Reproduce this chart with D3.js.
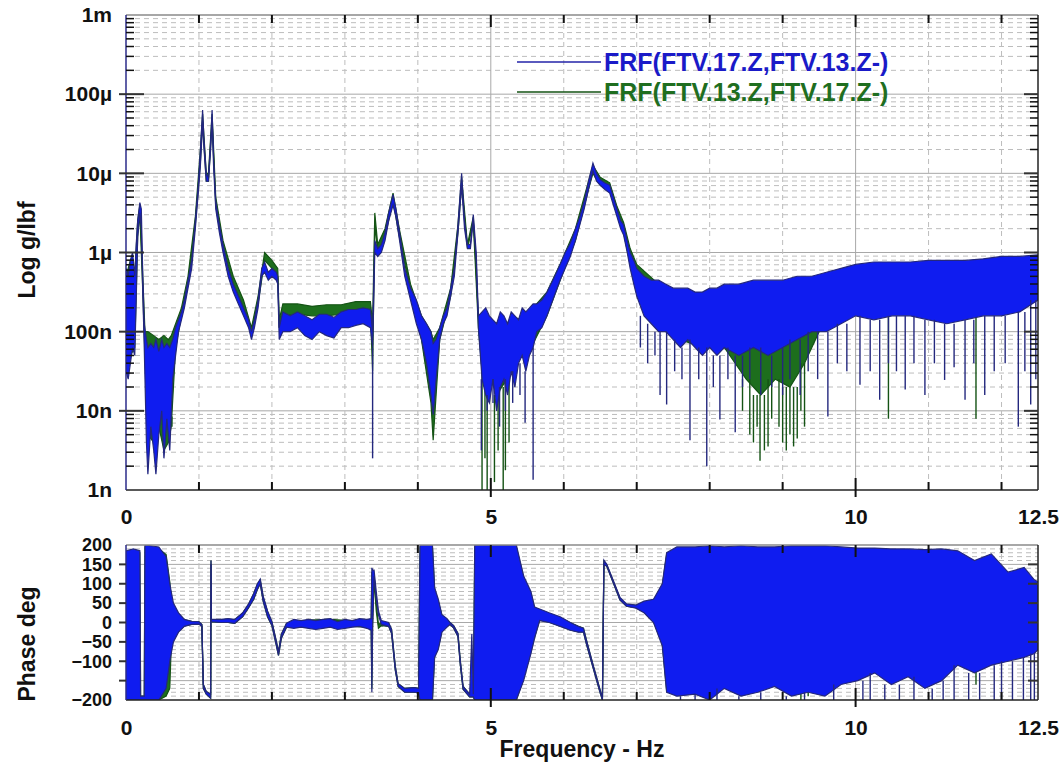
<!DOCTYPE html>
<html>
<head>
<meta charset="utf-8">
<script src="https://cdn.jsdelivr.net/npm/d3@7"></script>
<style>
  body { margin: 0; background: #fff; }
  svg { display: block; font-family: "Liberation Sans", Arial, sans-serif; font-weight: bold; }
</style>
</head>
<body>
<svg id="chart"></svg>
<script>
// magnitude rows: [freq Hz, upper log10(g/lbf), lower log10(g/lbf)]
const magBlue = [
  [0, -6.2, -7.5], [0.03, -6.3, -7.6], [0.06, -6.1, -7.4], [0.09, -6.0, -7.2], [0.12, -6.3, -7.3],
  [0.14, -5.9, -6.6], [0.16, -5.6, -5.8], [0.19, -5.37, -5.5], [0.21, -5.45, -5.7], [0.23, -6.3, -6.5],
  [0.25, -6.9, -7.2], [0.28, -7.1, -8.4], [0.30, -7.2, -8.8], [0.34, -7.15, -8.2], [0.38, -7.2, -8.5],
  [0.41, -7.1, -8.8], [0.45, -7.25, -8.3], [0.49, -7.1, -8.0], [0.52, -7.2, -8.6], [0.56, -7.15, -8.1],
  [0.60, -7.2, -8.5], [0.64, -7.1, -7.6], [0.68, -6.95, -7.3], [0.72, -6.85, -7.0], [0.76, -6.75, -6.85],
  [0.80, -6.6, -6.7], [0.85, -6.35, -6.45], [0.90, -6.1, -6.2], [0.95, -5.6, -5.7], [0.99, -5.15, -5.25],
  [1.02, -4.7, -4.9], [1.05, -4.2, -4.35], [1.07, -4.6, -4.7], [1.10, -5.0, -5.1], [1.13, -5.05, -5.1],
  [1.16, -4.6, -4.7], [1.18, -4.2, -4.3], [1.20, -4.8, -4.9], [1.23, -5.35, -5.45], [1.28, -5.65, -5.75],
  [1.33, -5.9, -6.0], [1.40, -6.2, -6.3], [1.47, -6.4, -6.5], [1.54, -6.55, -6.65], [1.61, -6.7, -6.8],
  [1.68, -6.85, -6.95], [1.72, -7.0, -7.1], [1.76, -6.85, -6.95], [1.81, -6.6, -6.7], [1.86, -6.2, -6.3],
  [1.90, -6.12, -6.25], [1.95, -6.25, -6.35], [2.00, -6.2, -6.3], [2.06, -6.25, -6.35], [2.08, -6.3, -6.4],
  [2.10, -6.95, -7.1], [2.15, -6.75, -7.0], [2.25, -6.8, -7.0], [2.35, -6.75, -6.95], [2.45, -6.8, -7.05],
  [2.55, -6.85, -7.1], [2.65, -6.78, -7.0], [2.75, -6.78, -7.05], [2.85, -6.82, -7.08], [2.95, -6.75, -6.95],
  [3.05, -6.72, -6.95], [3.15, -6.72, -6.92], [3.25, -6.7, -6.9], [3.35, -6.72, -6.95], [3.38, -7.0, -7.2],
  [3.41, -5.85, -6.0], [3.45, -5.95, -6.05], [3.50, -5.9, -6.0], [3.55, -5.75, -5.85], [3.60, -5.5, -5.6],
  [3.66, -5.27, -5.4], [3.70, -5.45, -5.55], [3.75, -5.75, -5.85], [3.82, -6.2, -6.3], [3.90, -6.45, -6.6],
  [3.98, -6.6, -6.9], [4.05, -6.8, -7.1], [4.12, -6.9, -7.4], [4.18, -7.0, -7.8], [4.21, -7.15, -8.05],
  [4.25, -7.1, -7.6], [4.30, -6.95, -7.1], [4.35, -6.8, -6.9], [4.40, -6.7, -6.8], [4.45, -6.45, -6.55],
  [4.50, -6.2, -6.3], [4.55, -5.65, -5.75], [4.60, -5.0, -5.15], [4.64, -5.6, -5.7], [4.68, -5.9, -5.95],
  [4.72, -5.9, -5.95], [4.76, -5.52, -5.6], [4.80, -6.0, -6.1], [4.83, -6.8, -6.95], [4.88, -6.75, -7.6],
  [4.93, -6.7, -7.8], [4.98, -6.8, -7.9], [5.03, -6.85, -7.6], [5.08, -6.9, -8.0], [5.13, -6.75, -7.7],
  [5.18, -6.8, -7.6], [5.23, -6.9, -7.8], [5.28, -6.75, -7.5], [5.33, -6.8, -7.7], [5.38, -6.85, -7.4],
  [5.43, -6.7, -7.3], [5.48, -6.75, -7.5], [5.53, -6.7, -7.3], [5.58, -6.65, -7.2], [5.63, -6.65, -7.0],
  [5.70, -6.6, -6.95], [5.77, -6.5, -6.8], [5.85, -6.35, -6.6], [5.95, -6.15, -6.35], [6.02, -6.0, -6.2],
  [6.09, -5.88, -6.05], [6.16, -5.7, -5.85], [6.22, -5.55, -5.65], [6.28, -5.35, -5.45], [6.34, -5.1, -5.2],
  [6.40, -4.87, -4.97], [6.45, -5.0, -5.1], [6.50, -5.08, -5.15], [6.56, -5.12, -5.2], [6.63, -5.15, -5.25],
  [6.68, -5.3, -5.4], [6.73, -5.45, -5.55], [6.78, -5.6, -5.7], [6.82, -5.65, -5.78], [6.87, -5.85, -6.0],
  [6.91, -6.0, -6.2], [6.96, -6.1, -6.4], [7.00, -6.2, -6.55], [7.10, -6.3, -6.8], [7.20, -6.35, -6.9],
  [7.30, -6.35, -7.0], [7.40, -6.4, -7.0], [7.50, -6.45, -7.1], [7.60, -6.45, -7.2], [7.70, -6.45, -7.1],
  [7.80, -6.5, -7.2], [7.90, -6.5, -7.3], [8.00, -6.45, -7.2], [8.10, -6.45, -7.3], [8.20, -6.4, -7.2],
  [8.40, -6.4, -7.3], [8.60, -6.35, -7.2], [8.80, -6.35, -7.3], [9.00, -6.35, -7.2], [9.20, -6.3, -7.1],
  [9.40, -6.3, -7.0], [9.60, -6.25, -7.0], [9.80, -6.2, -6.9], [10.00, -6.15, -6.8], [10.25, -6.12, -6.85],
  [10.50, -6.12, -6.8], [10.75, -6.12, -6.8], [11.00, -6.1, -6.85], [11.25, -6.1, -6.9], [11.50, -6.1, -6.85],
  [11.75, -6.08, -6.8], [12.00, -6.05, -6.8], [12.25, -6.05, -6.75], [12.50, -6.03, -6.6]
]

const magGreen = [
  [0, -6.3, -7.4], [0.06, -6.1, -7.3], [0.12, -6.3, -7.2], [0.16, -5.6, -5.8], [0.19, -5.4, -5.5],
  [0.23, -6.3, -6.5], [0.26, -7.0, -7.3], [0.30, -7.0, -8.3], [0.38, -7.05, -8.4], [0.45, -7.1, -8.2],
  [0.52, -7.05, -8.5], [0.58, -7.1, -8.4], [0.62, -7.05, -8.2], [0.68, -6.9, -7.2], [0.76, -6.7, -6.8],
  [0.85, -6.3, -6.4], [0.95, -5.55, -5.65], [1.02, -4.7, -4.85], [1.05, -4.25, -4.35], [1.10, -5.0, -5.1],
  [1.13, -5.0, -5.1], [1.18, -4.25, -4.35], [1.23, -5.3, -5.4], [1.33, -5.85, -5.95], [1.47, -6.3, -6.4],
  [1.61, -6.6, -6.7], [1.72, -6.95, -7.05], [1.81, -6.55, -6.65], [1.90, -6.0, -6.1], [2.00, -6.1, -6.2],
  [2.08, -6.2, -6.3], [2.10, -6.85, -6.95], [2.15, -6.65, -6.8], [2.35, -6.65, -6.78], [2.55, -6.68, -6.8],
  [2.75, -6.66, -6.8], [2.95, -6.66, -6.78], [3.15, -6.62, -6.75], [3.35, -6.62, -6.75], [3.38, -6.9, -7.5],
  [3.41, -5.5, -5.65], [3.45, -5.9, -6.0], [3.55, -5.7, -5.8], [3.66, -5.25, -5.35], [3.75, -5.72, -5.82],
  [3.90, -6.4, -6.5], [4.05, -6.8, -7.1], [4.18, -7.0, -7.9], [4.21, -7.1, -8.37], [4.30, -6.95, -7.1],
  [4.45, -6.45, -6.55], [4.55, -5.65, -5.75], [4.60, -5.05, -5.15], [4.68, -5.9, -5.95], [4.76, -5.55, -5.62],
  [4.83, -6.8, -6.95], [4.88, -6.8, -7.5], [4.92, -6.8, -7.7], [5.00, -6.9, -7.6], [5.08, -6.9, -7.8],
  [5.15, -6.85, -7.7], [5.22, -6.9, -7.6], [5.30, -6.8, -7.4], [5.40, -6.85, -7.3], [5.58, -6.7, -7.15],
  [5.77, -6.5, -6.8], [5.95, -6.15, -6.35], [6.16, -5.7, -5.85], [6.34, -5.1, -5.2], [6.40, -4.9, -5.0],
  [6.50, -5.05, -5.15], [6.63, -5.12, -5.22], [6.73, -5.42, -5.52], [6.82, -5.62, -5.75], [6.91, -5.95, -6.15],
  [7.00, -6.15, -6.5], [7.30, -6.4, -6.95], [7.60, -6.5, -7.1], [7.90, -6.55, -7.2], [8.20, -6.5, -7.2],
  [8.50, -6.5, -7.6], [8.70, -6.5, -7.8], [8.90, -6.5, -7.6], [9.10, -6.5, -7.7], [9.30, -6.45, -7.4],
  [9.50, -6.4, -7.0], [10.00, -6.25, -6.75], [10.50, -6.2, -6.75], [11.00, -6.18, -6.8], [11.50, -6.18, -6.8],
  [12.00, -6.12, -6.75], [12.50, -6.1, -6.55]
]

// single deep drops below the band: [freq, log10 value]
const magBlueDrops = [
  [3.38, -8.6], [4.87, -8.5], [4.95, -8.0], [5.03, -7.9], [5.12, -8.2], [5.2, -8.0], [5.3, -7.9],
  [5.4, -7.8], [5.47, -8.15], [5.58, -8.87], [7.05, -7.2], [7.15, -7.4], [7.25, -7.3], [7.32, -7.8],
  [7.41, -7.92], [7.52, -7.5], [7.62, -7.6], [7.73, -8.37], [7.85, -7.6], [7.96, -8.7], [8.05, -7.7],
  [8.14, -8.11], [8.25, -7.6], [8.35, -8.27], [8.45, -7.7], [8.55, -7.6], [8.7, -7.8], [8.85, -7.7],
  [9.0, -7.8], [9.1, -7.6], [9.24, -7.8], [9.35, -7.5], [9.48, -7.6], [9.62, -8.07], [9.75, -7.4],
  [9.88, -7.5], [10.06, -7.67], [10.2, -7.5], [10.33, -7.86], [10.45, -7.4], [10.56, -7.5], [10.68, -7.73],
  [10.8, -7.4], [10.95, -7.8], [11.08, -7.4], [11.22, -7.61], [11.35, -7.45], [11.5, -7.86], [11.62, -7.4],
  [11.77, -7.8], [11.9, -7.5], [12.05, -7.4], [12.23, -8.2], [12.32, -7.5], [12.4, -7.92], [12.47, -7.6]
]
const magGreenDrops = [
  [0.63, -8.07], [4.88, -9.0], [4.92, -8.6], [4.95, -9.0], [5.05, -8.9], [5.1, -8.5], [5.17, -9.0],
  [5.2, -8.75], [5.25, -8.4], [8.45, -8.0], [8.55, -8.3], [8.6, -8.4], [8.65, -8.2], [8.69, -8.63],
  [8.75, -8.5], [8.8, -8.45], [8.85, -8.1], [8.95, -8.2], [9.0, -8.4], [9.05, -8.5], [9.1, -8.3],
  [9.15, -8.45], [9.2, -8.35], [9.25, -8.0], [9.3, -8.2], [10.45, -8.1], [11.65, -8.1]
]

// phase rows: [freq Hz, upper deg, lower deg]
const phaseBlue = [
  [0, 185, -200], [0.1, 190, -200], [0.19, 185, -200], [0.2, -190, -200], [0.25, -190, -200],
  [0.26, 200, -200], [0.45, 195, -200], [0.55, 170, -170], [0.6, 100, -100], [0.65, 50, -50],
  [0.72, 25, -25], [0.8, 8, -10], [0.9, 3, -5], [1.0, 2, -4], [1.04, -5, -10], [1.06, -160, -170],
  [1.1, -178, -185], [1.16, -185, -195], [1.165, 160, 150], [1.17, 8, 2], [1.3, 8, 0], [1.4, 10, 0],
  [1.49, 8, -2], [1.6, 25, 15], [1.68, 48, 38], [1.75, 75, 60], [1.8, 100, 85], [1.84, 112, 100],
  [1.88, 68, 55], [1.94, 30, 15], [2.0, 2, -8], [2.05, -40, -50], [2.09, -75, -85], [2.13, -30, -40],
  [2.2, -2, -12], [2.3, 8, -15], [2.4, 5, -12], [2.5, 8, -15], [2.6, 5, -18], [2.7, 8, -15],
  [2.8, 10, -12], [2.9, 2, -18], [3.0, 8, -15], [3.1, 5, -12], [3.2, 10, -10], [3.3, 8, -15],
  [3.36, 10, -20], [3.37, 141, -180], [3.38, 135, -10], [3.4, 135, 120], [3.43, 80, 60], [3.46, 30, 20],
  [3.5, 5, -5], [3.6, 0, -10], [3.64, -18, -28], [3.69, -112, -122], [3.73, -158, -165], [3.82, -170, -180],
  [3.95, -168, -180], [4.01, -170, -182], [4.03, 200, -200], [4.2, 200, -200], [4.23, 90, -90],
  [4.28, 60, -70], [4.33, 20, -25], [4.4, 10, -12], [4.44, 0, -5], [4.49, -8, -14], [4.55, -28, -36],
  [4.58, -95, -105], [4.62, -165, -172], [4.71, -185, -192], [4.74, -30, -192], [4.76, -185, -192],
  [4.78, 200, -200], [5.35, 200, -200], [5.45, 120, -150], [5.55, 80, -80], [5.6, 40, -40], [5.67, 35, 5],
  [5.8, 25, 0], [5.95, 15, -10], [6.09, 0, -20], [6.2, -10, -25], [6.27, -15, -25], [6.31, -45, -55],
  [6.41, -115, -122], [6.5, -175, -182], [6.53, -195, -200], [6.55, 161, 150], [6.59, 150, 145],
  [6.68, 108, 102], [6.77, 65, 58], [6.86, 48, 42], [6.99, 45, 37], [7.1, 55, 25], [7.23, 60, 0],
  [7.35, 100, -60], [7.41, 180, -180], [7.55, 195, -190], [7.8, 195, -185], [8.0, 198, -200],
  [8.2, 195, -170], [8.43, 198, -190], [8.66, 195, -180], [8.89, 195, -165], [9.12, 198, -190],
  [9.35, 198, -180], [9.58, 198, -190], [9.8, 195, -160], [10.03, 192, -150], [10.26, 192, -130],
  [10.49, 190, -160], [10.72, 190, -140], [10.95, 188, -170], [11.18, 190, -150], [11.4, 185, -110],
  [11.63, 160, -130], [11.86, 177, -110], [12.09, 130, -100], [12.31, 142, -90], [12.45, 110, -80],
  [12.5, 105, -70]
]

const phaseGreen = [
  [0, 180, -200], [0.1, 185, -200], [0.19, 180, -200], [0.2, -190, -200], [0.25, -190, -200],
  [0.26, 195, -200], [0.45, 190, -200], [0.55, 175, -190], [0.6, 105, -170], [0.62, 60, -60],
  [0.65, 45, -45], [0.72, 22, -22], [0.8, 7, -9], [0.9, 3, -5], [1.0, 2, -4], [1.04, -5, -10],
  [1.06, -160, -170], [1.1, -178, -185], [1.16, -185, -195], [1.165, 160, 150], [1.17, 7, 2],
  [1.3, 7, 0], [1.4, 9, 0], [1.49, 7, -2], [1.6, 24, 15], [1.68, 47, 38], [1.75, 74, 60],
  [1.8, 98, 85], [1.84, 110, 100], [1.88, 66, 55], [1.94, 28, 15], [2.0, 1, -8], [2.05, -40, -50],
  [2.09, -75, -85], [2.13, -30, -40], [2.2, -3, -12], [2.5, 6, -12], [2.8, 8, -10], [3.1, 4, -10],
  [3.3, 6, -12], [3.36, 8, -18], [3.37, 130, -170], [3.38, 125, -10], [3.4, 125, 110], [3.43, 50, 30],
  [3.46, -5, -15], [3.5, 0, -8], [3.6, -2, -10], [3.64, -18, -28], [3.69, -112, -122], [3.73, -158, -165],
  [3.82, -170, -180], [3.95, -168, -180], [4.01, -170, -182], [4.03, 195, -200], [4.2, 195, -200],
  [4.23, 85, -85], [4.28, 55, -65], [4.33, 18, -22], [4.4, 8, -10], [4.44, 0, -5], [4.49, -8, -14],
  [4.55, -28, -36], [4.58, -95, -105], [4.62, -165, -172], [4.71, -185, -192], [4.76, -185, -192],
  [4.78, 195, -200], [5.35, 195, -200], [5.45, 115, -145], [5.55, 75, -75], [5.6, 38, -38],
  [5.67, 33, 6], [5.8, 23, 1], [5.95, 13, -9], [6.09, -1, -19], [6.2, -10, -24], [6.27, -15, -24],
  [6.31, -45, -55], [6.41, -115, -122], [6.5, -175, -182], [6.53, -195, -200], [6.55, 158, 150],
  [6.59, 148, 145], [6.68, 106, 102], [6.77, 63, 58], [6.86, 46, 42], [6.99, 44, 38], [7.1, 53, 27],
  [7.23, 58, 2], [7.35, 95, -55], [7.41, 175, -175], [7.55, 190, -185], [7.8, 190, -180],
  [8.0, 192, -190], [8.2, 190, -165], [8.43, 192, -185], [8.66, 190, -175], [8.89, 190, -160],
  [9.12, 192, -185], [9.35, 192, -175], [9.58, 192, -185], [9.8, 190, -155], [10.03, 185, -145],
  [10.26, 185, -125], [10.49, 185, -155], [10.72, 185, -135], [10.95, 182, -165], [11.18, 185, -145],
  [11.4, 180, -105], [11.63, 155, -125], [11.86, 170, -105], [12.09, 125, -95], [12.31, 138, -85],
  [12.45, 105, -75], [12.5, 100, -65]
]

const phaseBlueDrops = [
  [7.6, -200], [7.8, -200], [8.1, -200], [8.4, -200], [8.7, -200], [9.05, -200], [9.3, -200],
  [9.7, -200], [10.1, -200], [10.2, -200], [10.4, -200], [10.6, -200], [10.8, -200], [11.05, -200],
  [11.2, -200], [11.35, -200], [11.55, -200], [11.7, -200], [11.9, -200], [12.0, -200], [12.15, -200],
  [12.3, -200], [12.4, -200], [12.45, -200]
]
const phaseGreenDrops = [[0.57, -190], [4.93, -200], [9.25, -200], [9.35, -190], [11.65, -160]]

const xTicks = [0, 5, 10, 12.5]
const magTickExp = [-9, -8, -7, -6, -5, -4, -3]
const magTickLabels = ['1n', '10n', '100n', '1µ', '10µ', '100µ', '1m']
const phaseTicks = [200, 150, 100, 50, 0, -50, -100, -200]
const seriesNames = ['FRF(FTV.17.Z,FTV.13.Z-)', 'FRF(FTV.13.Z,FTV.17.Z-)']

const width = 1063
const height = 769
const blueFill = '#0f1cf0', blueEdge = '#24287e'
const greenFill = '#1d6e1d', greenEdge = '#145314'
const gridMajor = '#a8a8a8', gridMinor = '#bdbdbd'

const svg = d3.select('#chart').attr('width', width).attr('height', height)

const x = d3.scaleLinear().domain([0, 12.5]).range([126, 1038])
const yMag = d3.scaleLog().domain([1e-9, 1e-3]).range([490, 15])
const yPh = d3.scaleLinear().domain([-200, 200]).range([700, 545])
const p10 = e => Math.pow(10, e)
const same = v => v

const defs = svg.append('defs')
function clip (id, y0, y1) {
  defs.append('clipPath').attr('id', id).append('rect')
    .attr('x', x(0)).attr('y', y0).attr('width', x(12.5) - x(0)).attr('height', y1 - y0)
}
clip('clipMag', 15, 490)
clip('clipPh', 545, 700)

// grids --------------------------------------------------------------
function vGrid (g, y0, y1) {
  d3.range(1, 13).forEach(f => {
    const major = f === 5 || f === 10
    g.append('line').attr('x1', x(f)).attr('x2', x(f)).attr('y1', y0).attr('y2', y1)
      .attr('stroke', major ? gridMajor : gridMinor)
      .attr('stroke-dasharray', major ? null : '5,4')
  })
}

const gMag = svg.append('g')
const magMinor = []
d3.range(-9, -3).forEach(d => d3.range(2, 10).forEach(m => magMinor.push(m * p10(d))))
magMinor.forEach(v => {
  gMag.append('line').attr('x1', x(0)).attr('x2', x(12.5)).attr('y1', yMag(v)).attr('y2', yMag(v))
    .attr('stroke', gridMinor).attr('stroke-dasharray', '5,4')
})
magTickExp.slice(1, -1).forEach(e => {
  gMag.append('line').attr('x1', x(0)).attr('x2', x(12.5)).attr('y1', yMag(p10(e))).attr('y2', yMag(p10(e)))
    .attr('stroke', gridMajor)
})
vGrid(gMag, 15, 490)

const gPh = svg.append('g')
d3.range(-190, 200, 10).filter(v => v % 50 !== 0).forEach(v => {
  gPh.append('line').attr('x1', x(0)).attr('x2', x(12.5)).attr('y1', yPh(v)).attr('y2', yPh(v))
    .attr('stroke', gridMinor).attr('stroke-dasharray', '5,4')
})
d3.range(-150, 200, 50).forEach(v => {
  gPh.append('line').attr('x1', x(0)).attr('x2', x(12.5)).attr('y1', yPh(v)).attr('y2', yPh(v))
    .attr('stroke', gridMajor)
})
vGrid(gPh, 545, 700)

// traces -------------------------------------------------------------
function drawSeries (g, rows, drops, yS, conv, fill, edge) {
  const area = d3.area().x(d => x(d[0])).y0(d => yS(conv(d[2]))).y1(d => yS(conv(d[1])))
  g.append('path').datum(rows).attr('d', area).attr('fill', fill)
  const hi = d3.line().x(d => x(d[0])).y(d => yS(conv(d[1])))
  const lo = d3.line().x(d => x(d[0])).y(d => yS(conv(d[2])))
  g.append('path').datum(rows).attr('d', hi).attr('fill', 'none').attr('stroke', edge).attr('stroke-width', 1.2)
  g.append('path').datum(rows).attr('d', lo).attr('fill', 'none').attr('stroke', edge).attr('stroke-width', 1.2)
  const near = d3.bisector(d => d[0]).center
  drops.forEach(s => {
    const r = rows[near(rows, s[0])]
    g.append('line').attr('x1', x(s[0])).attr('x2', x(s[0]))
      .attr('y1', yS(conv(r[2]))).attr('y2', yS(conv(s[1])))
      .attr('stroke', edge).attr('stroke-width', 1.4)
  })
}

const tMag = svg.append('g').attr('clip-path', 'url(#clipMag)')
drawSeries(tMag, magGreen, magGreenDrops, yMag, p10, greenFill, greenEdge)
drawSeries(tMag, magBlue, magBlueDrops, yMag, p10, blueFill, blueEdge)

const tPh = svg.append('g').attr('clip-path', 'url(#clipPh)')
drawSeries(tPh, phaseGreen, phaseGreenDrops, yPh, same, greenFill, greenEdge)
drawSeries(tPh, phaseBlue, phaseBlueDrops, yPh, same, blueFill, blueEdge)

// frames and ticks ---------------------------------------------------
function frame (g, y0, y1) {
  g.append('line').attr('x1', x(0)).attr('x2', x(12.5)).attr('y1', y0).attr('y2', y0).attr('stroke', '#8a8a8a').attr('stroke-width', 1.5)
  g.append('line').attr('x1', x(0)).attr('x2', x(12.5)).attr('y1', y1).attr('y2', y1).attr('stroke', '#222').attr('stroke-width', 1.5)
  g.append('line').attr('x1', x(12.5)).attr('x2', x(12.5)).attr('y1', y0).attr('y2', y1).attr('stroke', '#222').attr('stroke-width', 1.5)
  g.append('line').attr('x1', x(0)).attr('x2', x(0)).attr('y1', y0).attr('y2', y1).attr('stroke', '#2b2b8a').attr('stroke-width', 1.5)
  d3.range(1, 13).forEach(f => {
    const major = f === 5 || f === 10
    g.append('line').attr('x1', x(f)).attr('x2', x(f)).attr('y1', y0).attr('y2', y0 + (major ? 12 : 8))
      .attr('stroke', '#111').attr('stroke-width', 2)
    g.append('line').attr('x1', x(f)).attr('x2', x(f)).attr('y1', y1 - (major ? 12 : 8)).attr('y2', y1 + (major ? 7 : 0))
      .attr('stroke', '#111').attr('stroke-width', 2)
  })
}

const axMag = svg.append('g')
frame(axMag, 15, 490)
magMinor.forEach(v => {
  axMag.append('line').attr('x1', x(0)).attr('x2', x(0) + 8).attr('y1', yMag(v)).attr('y2', yMag(v)).attr('stroke', '#111').attr('stroke-width', 1.5)
  axMag.append('line').attr('x1', x(12.5) - 8).attr('x2', x(12.5)).attr('y1', yMag(v)).attr('y2', yMag(v)).attr('stroke', '#111').attr('stroke-width', 1.5)
})
magTickExp.slice(1, -1).forEach(e => {
  axMag.append('line').attr('x1', x(0) - 7).attr('x2', x(0) + 18).attr('y1', yMag(p10(e))).attr('y2', yMag(p10(e))).attr('stroke', '#333').attr('stroke-width', 2)
  axMag.append('line').attr('x1', x(12.5) - 14).attr('x2', x(12.5)).attr('y1', yMag(p10(e))).attr('y2', yMag(p10(e))).attr('stroke', '#333').attr('stroke-width', 2)
})

const axPh = svg.append('g')
frame(axPh, 545, 700)
d3.range(-150, 200, 50).forEach(v => {
  axPh.append('line').attr('x1', x(0) - 7).attr('x2', x(0)).attr('y1', yPh(v)).attr('y2', yPh(v)).attr('stroke', '#333').attr('stroke-width', 2)
  axPh.append('line').attr('x1', x(12.5) - 10).attr('x2', x(12.5)).attr('y1', yPh(v)).attr('y2', yPh(v)).attr('stroke', '#333').attr('stroke-width', 2)
})

// tick labels --------------------------------------------------------
function styleText (sel, size) {
  sel.attr('font-size', size).attr('font-family', 'Liberation Sans, Arial, sans-serif')
    .attr('font-weight', 'bold').attr('fill', '#111')
}

const magAxis = d3.axisLeft(yMag).tickValues(magTickExp.map(p10))
  .tickFormat((d, i) => magTickLabels[i]).tickSize(0).tickPadding(0)
svg.append('g').attr('transform', 'translate(112,0)').call(magAxis)
  .call(g => g.select('.domain').remove())
  .selectAll('text').call(styleText, 21)

const phAxis = d3.axisLeft(yPh).tickValues(phaseTicks).tickSize(0).tickPadding(0)
svg.append('g').attr('transform', 'translate(112,0)').call(phAxis)
  .call(g => g.select('.domain').remove())
  .selectAll('text').call(styleText, 18)

function xLabels (yy) {
  const ax = d3.axisBottom(x).tickValues(xTicks).tickFormat(d3.format('')).tickSize(0).tickPadding(0)
  svg.append('g').attr('transform', `translate(0,${yy})`).call(ax)
    .call(g => g.select('.domain').remove())
    .selectAll('text').call(styleText, 21)
}
xLabels(509)
xLabels(720)

// titles -------------------------------------------------------------
svg.append('text').attr('transform', 'translate(35,250) rotate(-90)').attr('text-anchor', 'middle')
  .attr('font-size', 23).attr('fill', '#111').text('Log g/lbf')
svg.append('text').attr('transform', 'translate(35,644) rotate(-90)').attr('text-anchor', 'middle')
  .attr('font-size', 23).attr('fill', '#111').text('Phase deg')
svg.append('text').attr('x', 582).attr('y', 757).attr('text-anchor', 'middle')
  .attr('font-size', 23).attr('fill', '#111').text('Frequency - Hz')

// legend -------------------------------------------------------------
const legend = svg.append('g')
const legendColors = [['#2323a8', '#1a1ac8'], [greenEdge, '#1f6e1f']]
seriesNames.forEach((name, i) => {
  const yy = 62 + i * 30
  legend.append('line').attr('x1', 517).attr('x2', 601).attr('y1', yy).attr('y2', yy)
    .attr('stroke', legendColors[i][0]).attr('stroke-width', 1.5)
  legend.append('text').attr('x', 604).attr('y', yy).attr('dy', '0.36em')
    .attr('font-size', 25).attr('fill', legendColors[i][1]).text(name)
})
</script>
</body>
</html>
